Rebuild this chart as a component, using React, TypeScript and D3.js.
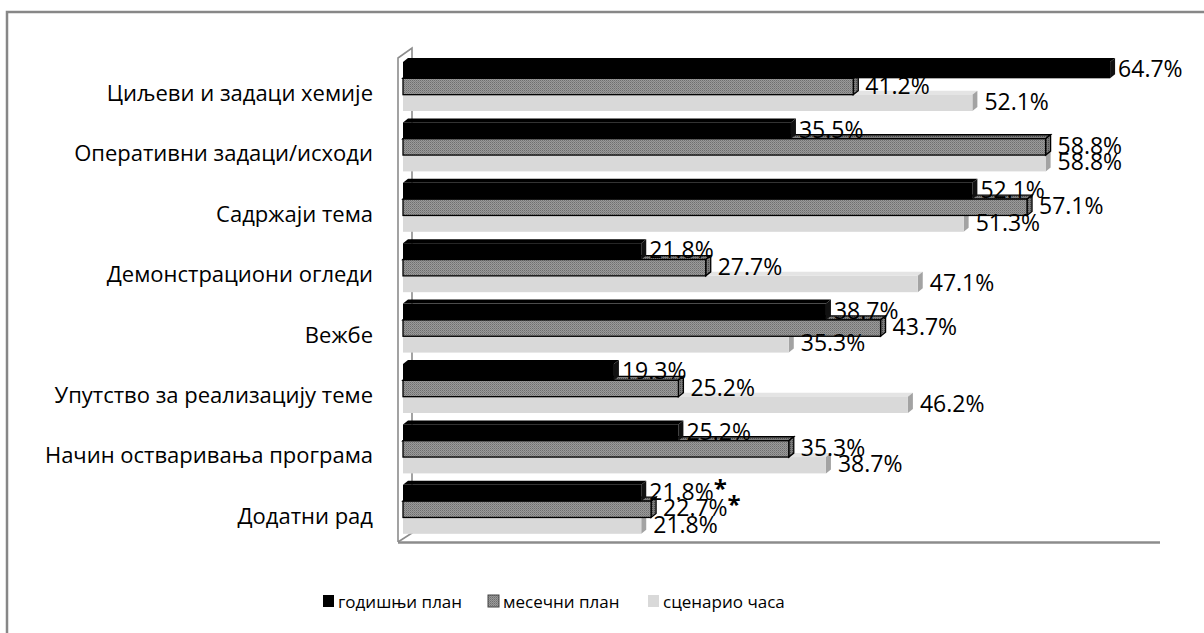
import React from 'react';
import * as d3 from 'd3';

const categories = [
  'Циљеви и задаци хемије',
  'Оперативни задаци/исходи',
  'Садржаји тема',
  'Демонстрациони огледи',
  'Вежбе',
  'Упутство за реализацију теме',
  'Начин остваривања програма',
  'Додатни рад',
];
const seriesNames = ['годишњи план', 'месечни план', 'сценарио часа'];
const annualPlan = [64.7, 35.5, 52.1, 21.8, 38.7, 19.3, 25.2, 21.8];
const monthlyPlan = [41.2, 58.8, 57.1, 27.7, 43.7, 25.2, 35.3, 22.7];
const lessonScenario = [52.1, 58.8, 51.3, 47.1, 35.3, 46.2, 38.7, 21.8];
const annualNotes = ['', '', '', '', '', '', '', '*'];
const monthlyNotes = ['', '', '', '', '', '', '', '*'];
const scenarioNotes = ['', '', '', '', '', '', '', ''];

const W = 1204;
const H = 633;
const FONT = '"Open Sans", "Liberation Sans", sans-serif';
const DX = 5;
const DY = 4;

const values = [annualPlan, monthlyPlan, lessonScenario];
const notes = [annualNotes, monthlyNotes, scenarioNotes];

const styles = [
  { front: '#000', top: '#000', side: '#111', stroke: 'none', labelDx: 8 },
  { front: 'url(#dots)', top: 'url(#dotsDark)', side: 'url(#dotsDark)', stroke: '#000', labelDx: 12 },
  { front: '#d9d9d9', top: '#e4e4e4', side: '#a3a3a3', stroke: 'none', labelDx: 12 },
];

const App = () => {
  const x = d3.scaleLinear().domain([0, 70]).range([403, 1168]);
  const y = d3.scaleBand<string>().domain(categories).range([59, 59 + 8 * 60.4]);
  const sy = d3.scaleBand<string>().domain(seriesNames).range([3, 52]);
  const x0 = x(0);

  const bar = (v: number, top: number, h: number, s: any, key: string) => {
    const x1 = x(v);
    const topFace = `${x0},${top} ${x0 + DX},${top - DY} ${x1 + DX},${top - DY} ${x1},${top}`;
    const sideFace = `${x1},${top} ${x1 + DX},${top - DY} ${x1 + DX},${top + h - DY} ${x1},${top + h}`;
    const sw = s.stroke === 'none' ? 0 : 1.3;
    return (
      <g key={key}>
        <polygon points={topFace} fill={s.top} stroke={s.stroke} strokeWidth={sw} />
        <polygon points={sideFace} fill={s.side} stroke={s.stroke} strokeWidth={sw} />
        <rect x={x0} y={top} width={x1 - x0} height={h} fill={s.front} stroke={s.stroke} strokeWidth={sw} />
      </g>
    );
  };

  return (
    <svg width={W} height={H} style={{ position: 'absolute', left: 0, top: 0, background: '#fff' }}>
      <defs>
        <pattern id="dots" width="2" height="2" patternUnits="userSpaceOnUse">
          <rect width="2" height="2" fill="#9a9a9a" />
          <rect width="1" height="1" fill="#6e6e6e" />
          <rect x="1" y="1" width="1" height="1" fill="#828282" />
        </pattern>
        <pattern id="dotsDark" width="2" height="2" patternUnits="userSpaceOnUse">
          <rect width="2" height="2" fill="#7a7a7a" />
          <rect width="1" height="1" fill="#4a4a4a" />
        </pattern>
      </defs>

      {/* chart frame */}
      <path d={`M7,${H} V12 H${W}`} fill="none" stroke="#878787" strokeWidth={2.5} />

      {/* walls and floor */}
      <g fill="none" stroke="#8c8c8c" strokeWidth={1.6}>
        <path d={`M398,542 V58 L412,48 V533 L398,542`} />
        <path d={`M398,542.5 H1160`} strokeWidth={2.5} />
      </g>

      {/* bars: lower series first so the upper front faces hide their top faces */}
      {categories.map((c, i) => {
        const T = y(c)!;
        return (
          <g key={c}>
            {[2, 1, 0].map((k) =>
              bar(values[k][i], T + sy(seriesNames[k])!, sy.bandwidth(), styles[k], `${c}-${k}`)
            )}
          </g>
        );
      })}

      {/* value labels */}
      <g fontFamily={FONT} fontSize={23} fill="#000">
        {categories.map((c, i) => {
          const T = y(c)!;
          return [0, 1, 2].map((k) => {
            const v = values[k][i];
            const cy = T + sy(seriesNames[k])! + sy.bandwidth() / 2 - 2;
            return (
              <text key={`${c}-l${k}`} x={x(v) + styles[k].labelDx} y={cy} dominantBaseline="central">
                {`${v.toFixed(1)}%`}
                {notes[k][i] && (
                  <tspan fontWeight="bold" fontSize={24} dy={-4}>
                    {notes[k][i]}
                  </tspan>
                )}
              </text>
            );
          });
        })}
      </g>

      {/* category labels */}
      <g fontFamily={FONT} fontSize={22} fill="#000" textAnchor="end">
        {categories.map((c) => (
          <text key={c} x={373} y={y(c)! + 33} dominantBaseline="central">
            {c}
          </text>
        ))}
      </g>

      {/* legend */}
      <g fontFamily={FONT} fontSize={17} fill="#000">
        {seriesNames.map((n, k) => {
          const lx = [323, 488, 648][k];
          return (
            <g key={n} transform={`translate(${lx},601)`}>
              <rect
                x={0}
                y={-6}
                width={11}
                height={12}
                fill={styles[k].front}
                stroke={k === 1 ? '#444' : 'none'}
              />
              <text x={15} y={0} dominantBaseline="central">
                {n}
              </text>
            </g>
          );
        })}
      </g>
    </svg>
  );
};

export default App;
